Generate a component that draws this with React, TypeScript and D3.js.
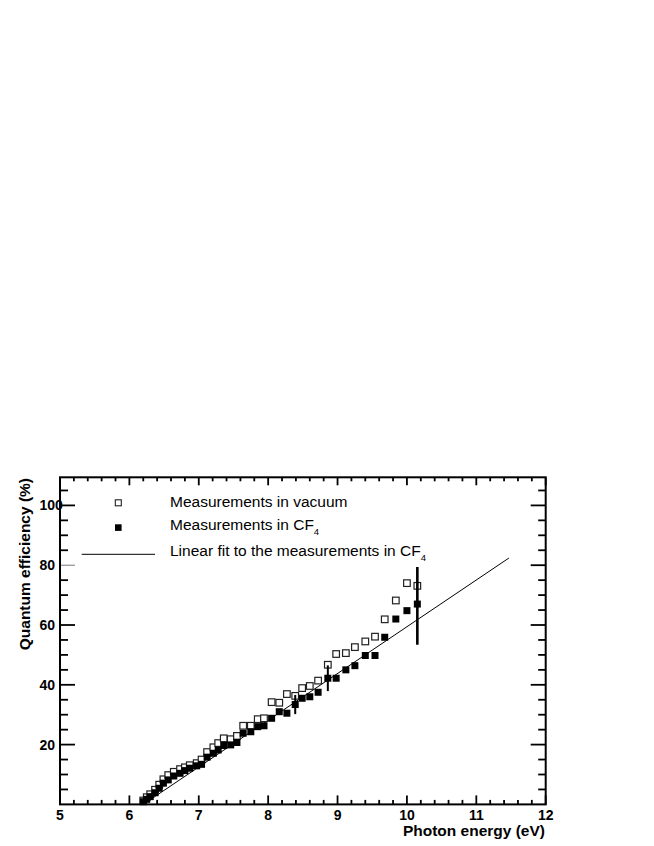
import React from "react";
import * as d3 from "d3";

// ---- data ----
const energies = [6.20, 6.25, 6.30, 6.37, 6.43, 6.49, 6.56, 6.64, 6.73, 6.80, 6.87, 6.97, 7.04, 7.12, 7.21, 7.28, 7.36, 7.46, 7.55, 7.64, 7.75, 7.85, 7.94, 8.05, 8.16, 8.27, 8.39, 8.49, 8.60, 8.72, 8.86, 8.98, 9.12, 9.25, 9.40, 9.54, 9.68, 9.84, 10.00, 10.15];
const vacuumQE = [1.3, 2.4, 3.4, 4.9, 6.6, 8.4, 9.8, 10.9, 11.8, 12.4, 13.1, 13.8, 15.0, 17.5, 19.1, 20.5, 22.1, 21.8, 22.9, 26.3, 26.3, 28.5, 28.8, 34.2, 34.0, 36.9, 36.3, 38.9, 39.6, 41.4, 46.7, 50.3, 50.6, 52.6, 54.5, 56.1, 61.9, 68.2, 74.0, 73.1];
const cf4QE = [0.9, 1.7, 2.6, 3.9, 5.4, 7.1, 8.2, 9.5, 10.4, 11.3, 12.1, 12.9, 13.4, 15.8, 17.1, 18.2, 19.7, 19.9, 20.7, 23.8, 24.3, 26.0, 26.3, 28.8, 31.0, 30.5, 33.4, 35.5, 36.0, 37.5, 42.2, 42.2, 45.0, 46.4, 49.8, 49.8, 55.9, 62.0, 64.8, 67.0];
const errEnergies = [8.39, 8.86, 10.15];
const errCenters = [33.4, 42.2, 66.4];
const errHalf = [3.2, 4.3, 13.0];
const fitEnergies = [6.2, 11.47];
const fitValues = [0, 82.4];
const xTickLabels = [5, 6, 7, 8, 9, 10, 11, 12];
const yTickLabels = [20, 40, 60, 80, 100];
const legendLabels = ["Measurements in vacuum", "Measurements in CF", "Linear fit to the measurements in CF"];

const W = 654, H = 846;
const left = 60, right = 545.7, top = 477.3, bottom = 804.4;

export default function App() {
  const x = d3.scaleLinear().domain([5, 12]).range([left, right]);
  const y = d3.scaleLinear().domain([0, 109.4]).range([bottom, top]);
  const xMinor = d3.range(5, 12.0001, 0.2).map((v) => +v.toFixed(2));
  const yMinor = d3.range(5, 109, 5);
  const isMajorX = (v: number) => Math.abs(v - Math.round(v)) < 1e-6;
  const isMajorY = (v: number) => v % 20 === 0;
  const fitLine = d3.line<number>().x((d, i) => x(fitEnergies[i])).y((d) => y(d));
  const font = "'Liberation Sans', Arial, Helvetica, sans-serif";
  const sq = 7;
  const osq = 6.6;

  return (
    <svg width={W} height={H} style={{ position: "absolute", left: 0, top: 0, background: "#fff" }}>
      <rect x={0} y={0} width={W} height={H} fill="#fff" />
      {/* x ticks bottom & top */}
      {xMinor.map((v, i) => {
        const major = isMajorX(v);
        return (
          <g key={"xt" + i}>
            <line x1={x(v)} x2={x(v)} y1={bottom} y2={bottom - (major ? 9 : 4.5)} stroke="#000" strokeWidth={1.8} />
            <line x1={x(v)} x2={x(v)} y1={top} y2={top + (major ? 8 : 4)} stroke="#000" strokeWidth={1.8} />
          </g>
        );
      })}
      {yMinor.map((v, i) => {
        const major = isMajorY(v);
        const thin = v === 80;
        return (
          <g key={"yt" + i}>
            <line x1={left} x2={left + (major ? 15 : 8)} y1={y(v)} y2={y(v)} stroke={thin ? "#777" : "#000"} strokeWidth={thin ? 1 : 1.8} />
            <line x1={right} x2={right - (major ? 15 : 7.5)} y1={y(v)} y2={y(v)} stroke="#000" strokeWidth={1.8} />
          </g>
        );
      })}
      {/* frame */}
      <rect x={left} y={top} width={right - left} height={bottom - top} fill="none" stroke="#000" strokeWidth={2} />

      {/* tick labels */}
      {xTickLabels.map((v) => (
        <text key={"xl" + v} x={x(v)} y={820} textAnchor="middle" fontFamily={font} fontWeight="bold" fontSize={14}>
          {v}
        </text>
      ))}
      {yTickLabels.map((v) => (
        <text key={"yl" + v} x={39.5} y={y(v) + 5} textAnchor="start" fontFamily={font} fontWeight="bold" fontSize={14}>
          {v}
        </text>
      ))}

      {/* axis titles */}
      <text x={545} y={836} textAnchor="end" fontFamily={font} fontWeight="bold" fontSize={15.5}>
        Photon energy (eV)
      </text>
      <text transform={`translate(29.5,478) rotate(-90)`} textAnchor="end" fontFamily={font} fontWeight="bold" fontSize={15.5}>
        Quantum efficiency (%)
      </text>

      {/* fit line */}
      <path d={fitLine(fitValues) || ""} fill="none" stroke="#000" strokeWidth={1} />

      {/* vacuum open squares */}
      {energies.map((e, i) => (
        <rect key={"v" + i} x={x(e) - osq / 2} y={y(vacuumQE[i]) - osq / 2} width={osq} height={osq} fill="#fff" stroke="#222" strokeWidth={1.2} />
      ))}
      {/* error bars */}
      {errEnergies.map((e, i) => (
        <line key={"e" + i} x1={x(e)} x2={x(e)} y1={y(errCenters[i] - errHalf[i])} y2={y(errCenters[i] + errHalf[i])} stroke="#000" strokeWidth={i === 2 ? 2.6 : 2} />
      ))}
      {/* CF4 filled squares */}
      {energies.map((e, i) => (
        <rect key={"c" + i} x={x(e) - sq / 2} y={y(cf4QE[i]) - sq / 2} width={sq} height={sq} fill="#000" />
      ))}

      {/* legend */}
      <rect x={115.3} y={499.8} width={6} height={6} fill="#fff" stroke="#222" strokeWidth={1.1} />
      <text x={170} y={506.5} fontFamily={font} fontSize={15.5}>{legendLabels[0]}</text>
      <rect x={115} y={524.3} width={6.6} height={6.6} fill="#000" />
      <text x={170} y={530} fontFamily={font} fontSize={15.5}>
        {legendLabels[1]}
        <tspan fontSize={9.5} dy={5}>4</tspan>
      </text>
      <line x1={81.7} x2={155} y1={554.3} y2={554.3} stroke="#000" strokeWidth={1} />
      <text x={170} y={556} fontFamily={font} fontSize={15.5}>
        {legendLabels[2]}
        <tspan fontSize={9.5} dy={5}>4</tspan>
      </text>
    </svg>
  );
}
